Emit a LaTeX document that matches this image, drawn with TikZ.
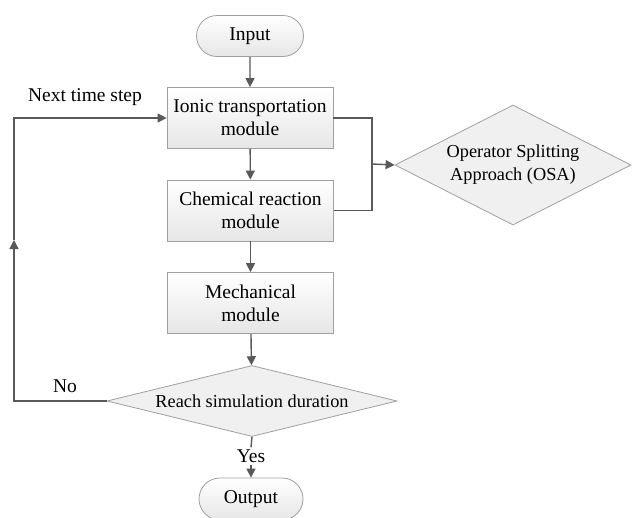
\documentclass[tikz,border=0pt]{standalone}
\usepackage{fontspec}
\setmainfont{Liberation Serif}
\usetikzlibrary{shapes.geometric,shapes.misc,arrows.meta}
\definecolor{lnc}{HTML}{595959}
\definecolor{bdc}{HTML}{A0A0A0}
\definecolor{fillc}{HTML}{E6E6E6}
\tikzset{
  box/.style={draw=bdc, line width=0.8pt, top color=white, bottom color=fillc, minimum width=166pt, minimum height=61pt, align=center, font=\fontsize{19.5}{23}\selectfont, inner sep=0pt},
  term/.style={rounded rectangle, draw=bdc, line width=0.8pt, top color=white, bottom color=fillc, minimum width=107pt, minimum height=41pt, font=\fontsize{19.5}{23}\selectfont, inner sep=0pt},
  dec/.style={diamond, draw=bdc, line width=0.8pt, fill=fillc!60, align=center, inner sep=0pt, font=\fontsize{18.3}{23}\selectfont},
  conn/.style={draw=lnc, line width=1.4pt},
  arr/.style={conn, -{Triangle[length=9pt,width=9pt]}},
  lbl/.style={font=\fontsize{19.5}{23}\selectfont, inner sep=0pt}
}
\begin{document}
\begin{tikzpicture}[x=1pt,y=-1pt]
\useasboundingbox (0,0) rectangle (632,517);
\node[term] (in) at (250,36) {Input};
\node[box] (ion) at (250,118) {Ionic transportation\\module};
\node[box] (chem) at (250.5,210.5) {Chemical reaction\\module};
\node[box] (mech) at (250.5,303) {Mechanical\\module};
\node[dec, aspect=4.08, minimum width=290pt, minimum height=71pt] (rd) at (252,401) {Reach simulation duration};
\node[term, minimum width=104pt, minimum height=42pt] (out) at (251,499) {Output};
\node[dec, aspect=1.97, minimum width=236pt, minimum height=120pt] (osa) at (513,165) {Operator Splitting\\Approach (OSA)};
\coordinate (cb) at (372,164);
\coordinate (cl) at (14,240);
\node[lbl] (nts) at (85,97) {Next time step};
\node[lbl] (no) at (65,386) {No};
\node[lbl, fill=white, inner sep=2pt] (yes) at (251,456) {Yes};
\draw[arr] (in) -- (ion);
\draw[arr] (ion) -- (chem);
\draw[arr] (chem) -- (mech);
\draw[arr] (mech) -- (rd);
\draw[conn] (rd.south) -- (yes.north);
\draw[arr] (yes.south) -- (out.north);
\draw[arr] (rd.west) -| (cl);
\draw[arr] (cl) |- (ion.west);
\draw[conn] (ion.east) -| (cb) |- (chem.east);
\draw[arr] (cb) -- (osa.west);
\end{tikzpicture}
\end{document}
